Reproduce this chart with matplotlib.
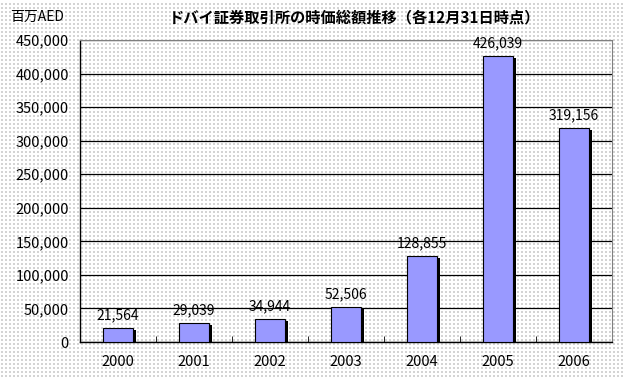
import matplotlib
matplotlib.use("Agg")
import matplotlib.pyplot as plt
import numpy as np

plt.rcParams['font.family'] = ['Noto Sans CJK JP', 'DejaVu Sans']

years = ['2000', '2001', '2002', '2003', '2004', '2005', '2006']
values = [21564, 29039, 34944, 52506, 128855, 426039, 319156]
title = 'ドバイ証券取引所の時価総額推移（各12月31日時点）'
unit = '百万AED'

W, H = 623, 378
fig = plt.figure(figsize=(W / 100, H / 100), dpi=100)
fig.patch.set_facecolor('white')

# dotted background like the original
bg = fig.add_axes([0, 0, 1, 1], zorder=-10)
gx, gy = np.meshgrid(np.arange(2, W, 4), np.arange(2, H, 4))
bg.scatter(gx.ravel(), gy.ravel(), s=0.6, color='#d4d4d4', marker='s',
           linewidths=0)
bg.set_xlim(0, W)
bg.set_ylim(0, H)
bg.axis('off')

ax = fig.add_axes([80 / W, 1 - 342 / H, (612 - 80) / W, (342 - 40) / H])
ax.set_facecolor('none')

x = np.arange(len(years))
bw = 0.39
dx = 3 / 76
# shadow
ax.bar(x + dx, np.array(values) - 3000, width=bw, color='black', zorder=2)
ax.bar(x, values, width=bw, color='#9999ff', edgecolor='black',
       linewidth=0.8, zorder=3)
for xi, v in zip(x, values):
    ax.text(xi, v + 8500, f'{v:,}', ha='center', va='bottom', fontsize=10,
            color='black', zorder=4)

ax.set_xlim(-0.5, len(years) - 0.5)
ax.set_ylim(0, 450000)
ax.set_yticks(np.arange(0, 450001, 50000))
ax.set_yticklabels([f'{v:,}' for v in range(0, 450001, 50000)], fontsize=10.5)
ax.yaxis.grid(True, color='black', linewidth=0.9, zorder=1)
ax.set_axisbelow(True)
ax.set_xticks(x)
ax.set_xticklabels(years, fontsize=10.5)
ax.tick_params(axis='x', length=0, pad=9)
ax.tick_params(axis='y', length=0, pad=8)
ax.set_xticks(np.arange(-0.5, len(years) - 0.4, 1), minor=True)
ax.tick_params(axis='x', which='minor', direction='in', length=4, color='black')

for side in ['top', 'right']:
    ax.spines[side].set_color('#808080')
    ax.spines[side].set_linewidth(0.8)
for side in ['left', 'bottom']:
    ax.spines[side].set_color('black')
    ax.spines[side].set_linewidth(1.0)

fig.text(10 / W, 1 - 17 / H, unit, fontsize=10, va='center', ha='left')
fig.text(355 / W, 1 - 17 / H, title, fontsize=11, fontweight='bold',
         va='center', ha='center')

fig.savefig('out.png', dpi=100)
